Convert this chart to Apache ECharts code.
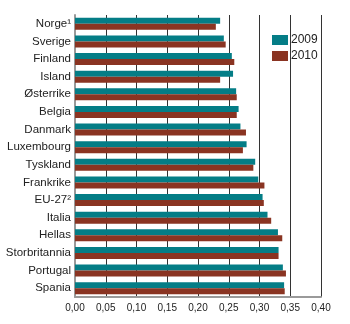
<!DOCTYPE html>
<html>
<head>
<meta charset="utf-8">
<script src="https://cdn.jsdelivr.net/npm/echarts@6/dist/echarts.min.js"></script>
<style>
  html, body { margin: 0; padding: 0; background: #fff; }
  #chart { width: 350px; height: 324px; }
</style>
</head>
<body>
<div id="chart"></div>
<script>
// Gini coefficient by country, 2009 and 2010
const countries = ['Norge¹', 'Sverige', 'Finland', 'Island', 'Østerrike', 'Belgia', 'Danmark',
  'Luxembourg', 'Tyskland', 'Frankrike', 'EU-27²', 'Italia', 'Hellas', 'Storbritannia',
  'Portugal', 'Spania'];
const values2009 = [0.236, 0.242, 0.255, 0.257, 0.262, 0.266, 0.269, 0.279, 0.293, 0.298,
  0.305, 0.313, 0.330, 0.331, 0.338, 0.340];
const values2010 = [0.229, 0.245, 0.259, 0.236, 0.263, 0.263, 0.278, 0.273, 0.290, 0.308,
  0.307, 0.319, 0.337, 0.331, 0.343, 0.341];
const seriesNames = ['2009', '2010'];

const teal = '#047d86';
const brown = '#8a3422';
const font = 'Liberation Sans, Arial, sans-serif';

const chart = echarts.init(document.getElementById('chart'), null, { renderer: 'canvas' });
chart.setOption({
  animation: false,
  textStyle: { fontFamily: font },
  grid: { left: 75, right: 29, top: 15, bottom: 27, containLabel: false },
  legend: {
    data: seriesNames,
    orient: 'vertical',
    left: 267,
    top: 29,
    itemWidth: 16,
    itemHeight: 10,
    itemGap: 4,
    icon: 'rect',
    textStyle: { fontSize: 12, color: '#222', fontFamily: font, padding: [0, 0, 0, -2] }
  },
  xAxis: {
    type: 'value',
    min: 0,
    max: 0.4,
    interval: 0.05,
    axisLine: { show: true, lineStyle: { color: '#9a9a9a', width: 2 } },
    axisTick: { show: false },
    splitLine: { show: true, lineStyle: { color: '#333', width: 1 } },
    axisLabel: {
      fontSize: 10,
      color: '#222',
      margin: 6,
      formatter: v => v.toFixed(2).replace('.', ',')
    }
  },
  yAxis: {
    type: 'category',
    data: countries,
    inverse: true,
    axisLine: { show: true, lineStyle: { color: '#9a9a9a', width: 2 } },
    axisTick: { show: false },
    axisLabel: { fontSize: 11.5, color: '#222', margin: 4 }
  },
  series: [
    {
      name: seriesNames[0],
      type: 'bar',
      data: values2009,
      barGap: '0%',
      barCategoryGap: '32%',
      itemStyle: { color: teal, borderColor: '#0a6a72', borderWidth: 0 }
    },
    {
      name: seriesNames[1],
      type: 'bar',
      data: values2010,
      itemStyle: { color: brown }
    }
  ]
});
</script>
</body>
</html>
